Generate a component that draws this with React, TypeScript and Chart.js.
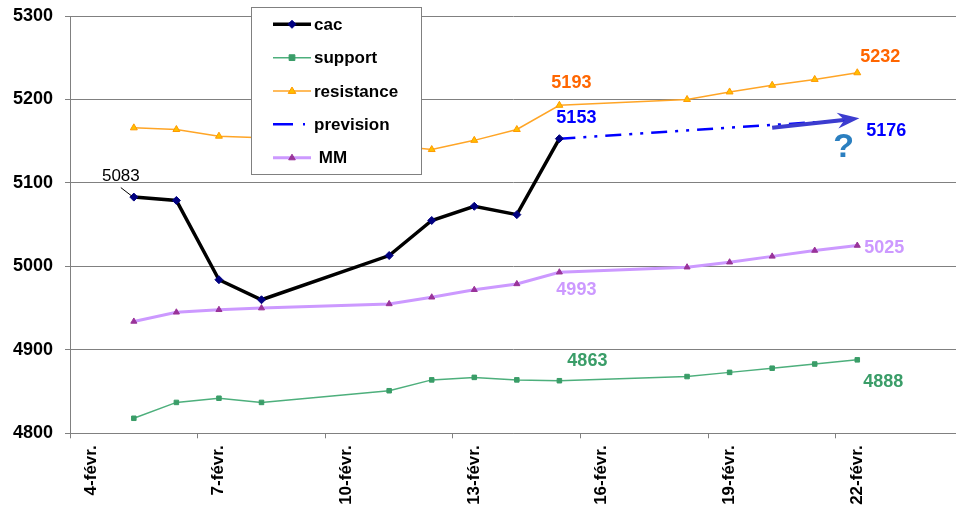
import React, { useEffect, useRef } from 'react';
import { Chart, registerables } from 'chart.js';

Chart.register(...registerables);

// ---- data ----
const days = [5, 6, 7, 8, 11, 12, 13, 14, 15, 18, 19, 20, 21, 22];
const cacDays = [5, 6, 7, 8, 11, 12, 13, 14, 15];
const cacValues = [5083, 5079, 4984, 4960, 5013, 5055, 5072, 5062, 5153];
const supportValues = [4818, 4837, 4842, 4837, 4851, 4864, 4867, 4864, 4863, 4868, 4873, 4878, 4883, 4888];
const resistanceValues = [5166, 5164, 5156, 5154, 5145, 5140, 5151, 5164, 5193, 5200, 5209, 5217, 5224, 5232];
const previsionDays = [15, 22];
const previsionValues = [5153, 5176];
const mmValues = [4934, 4945, 4948, 4950, 4955, 4963, 4972, 4979, 4993, 4999, 5005, 5012, 5019, 5025];
const tickDays = [4, 7, 10, 13, 16, 19, 22];
const tickLabels = ['4-févr.', '7-févr.', '10-févr.', '13-févr.', '16-févr.', '19-févr.', '22-févr.'];
const seriesNames = ['cac', 'support', 'resistance', 'prevision', ' MM'];

const FONT = "'Liberation Sans', Arial, sans-serif";
const PLOT_RIGHT = 956;

// value labels: dataset index, day, offset, colour
const valueLabels = [
  { ds: 0, day: 5, dx: -13, dy: -21, color: '#000000', bold: false, leader: true },
  { ds: 2, day: 15, dx: 12, dy: -22, color: '#FF6600', bold: true },
  { ds: 0, day: 15, dx: 17, dy: -21, color: '#0000FF', bold: true },
  { ds: 2, day: 22, dx: 23, dy: -16, color: '#FF6600', bold: true },
  { ds: 3, day: 22, dx: 29, dy: 12, color: '#0000FF', bold: true },
  { ds: 4, day: 22, dx: 27, dy: 3, color: '#CC99FF', bold: true },
  { ds: 4, day: 15, dx: 17, dy: 18, color: '#CC99FF', bold: true },
  { ds: 1, day: 15, dx: 28, dy: -20, color: '#3A9D68', bold: true },
  { ds: 1, day: 22, dx: 26, dy: 22, color: '#3A9D68', bold: true },
];

const arrowFrom = { x: 20, y: 5166 };
const arrowTo = { x: 22.05, y: 5177.5 };
const questionMark = { x: 21.68, y: 5142, text: '?' };

const toPoints = (xs: number[], ys: number[]) => xs.map((x, i) => ({ x, y: ys[i] }));

function drawMarker(ctx: CanvasRenderingContext2D, style: string, x: number, y: number, r: number, fill: string, stroke: string) {
  ctx.save();
  ctx.fillStyle = fill;
  ctx.strokeStyle = stroke;
  ctx.lineWidth = 1;
  ctx.setLineDash([]);
  ctx.beginPath();
  if (style === 'rectRot') {
    ctx.moveTo(x, y - r);
    ctx.lineTo(x + r, y);
    ctx.lineTo(x, y + r);
    ctx.lineTo(x - r, y);
    ctx.closePath();
  } else if (style === 'rect') {
    const s = r * 0.9;
    ctx.rect(x - s, y - s, 2 * s, 2 * s);
  } else if (style === 'triangle') {
    ctx.moveTo(x, y - r);
    ctx.lineTo(x + r * 0.95, y + r * 0.6);
    ctx.lineTo(x - r * 0.95, y + r * 0.6);
    ctx.closePath();
  }
  ctx.fill();
  ctx.stroke();
  ctx.restore();
}

const annotationPlugin = {
  id: 'annotations',
  afterLayout(chart: any) {
    const xs = chart.scales.x;
    const area = chart.chartArea;
    area.right = PLOT_RIGHT;
    area.width = PLOT_RIGHT - area.left;
    xs.right = PLOT_RIGHT;
    xs.width = PLOT_RIGHT - xs.left;
    xs.configure();
  },
  afterDatasetsDraw(chart: any) {
    const { ctx, scales } = chart;
    const xs = scales.x;
    const ys = scales.y;
    ctx.save();
    // arrow
    const x1 = xs.getPixelForValue(arrowFrom.x);
    const y1 = ys.getPixelForValue(arrowFrom.y);
    const x2 = xs.getPixelForValue(arrowTo.x);
    const y2 = ys.getPixelForValue(arrowTo.y);
    const ang = Math.atan2(y2 - y1, x2 - x1);
    const headLen = 19;
    const headW = 8;
    const bx = x2 - headLen * Math.cos(ang);
    const by = y2 - headLen * Math.sin(ang);
    ctx.strokeStyle = '#3C3CCF';
    ctx.fillStyle = '#3C3CCF';
    ctx.lineWidth = 4;
    ctx.setLineDash([]);
    ctx.beginPath();
    ctx.moveTo(x1, y1);
    ctx.lineTo(bx + 3 * Math.cos(ang), by + 3 * Math.sin(ang));
    ctx.stroke();
    ctx.beginPath();
    ctx.moveTo(x2, y2);
    ctx.lineTo(bx - headW * Math.sin(ang) - 3 * Math.cos(ang), by + headW * Math.cos(ang) - 3 * Math.sin(ang));
    ctx.lineTo(bx + 4 * Math.cos(ang), by + 4 * Math.sin(ang));
    ctx.lineTo(bx + headW * Math.sin(ang) - 3 * Math.cos(ang), by - headW * Math.cos(ang) - 3 * Math.sin(ang));
    ctx.closePath();
    ctx.fill();

    // question mark
    ctx.fillStyle = '#2B7FC0';
    ctx.font = `bold 34px ${FONT}`;
    ctx.textAlign = 'center';
    ctx.textBaseline = 'middle';
    ctx.fillText(questionMark.text, xs.getPixelForValue(questionMark.x), ys.getPixelForValue(questionMark.y));

    // value labels
    valueLabels.forEach((l) => {
      const ds = chart.data.datasets[l.ds];
      const pt = (ds.data as any[]).find((p) => p.x === l.day);
      if (!pt) return;
      const px = xs.getPixelForValue(pt.x);
      const py = ys.getPixelForValue(pt.y);
      ctx.font = `${l.bold ? 'bold ' : ''}${l.bold ? 18 : 17}px ${FONT}`;
      ctx.fillStyle = l.color;
      ctx.textAlign = 'center';
      ctx.textBaseline = 'middle';
      ctx.fillText(String(pt.y), px + l.dx, py + l.dy);
      if (l.leader) {
        ctx.strokeStyle = '#000';
        ctx.lineWidth = 1;
        ctx.beginPath();
        ctx.moveTo(px - 13, py - 9.5);
        ctx.lineTo(px - 2, py - 1);
        ctx.stroke();
      }
    });
    ctx.restore();
  },
  afterDraw(chart: any) {
    const { ctx } = chart;
    ctx.save();
    ctx.fillStyle = '#ffffff';
    ctx.fillRect(251, 7, 170, 167);
    ctx.strokeStyle = '#808080';
    ctx.lineWidth = 1;
    ctx.strokeRect(251.5, 7.5, 170, 167);
    chart.data.datasets.forEach((ds: any, i: number) => {
      const y = 24.3 + i * 33.35;
      ctx.strokeStyle = ds.borderColor;
      ctx.lineWidth = ds.borderWidth;
      if (ds.borderDash) {
        ctx.setLineDash([20, 10, 2, 10]);
      } else {
        ctx.setLineDash([]);
      }
      ctx.beginPath();
      ctx.moveTo(273, y);
      ctx.lineTo(311, y);
      ctx.stroke();
      ctx.setLineDash([]);
      if (ds.pointRadius > 0) {
        drawMarker(ctx, ds.pointStyle, 292, y, ds.pointRadius, ds.pointBackgroundColor, ds.pointBorderColor);
      }
      ctx.fillStyle = '#000';
      ctx.font = `bold 17px ${FONT}`;
      ctx.textAlign = 'left';
      ctx.textBaseline = 'middle';
      ctx.fillText(ds.label, 314, y + 1);
    });
    ctx.restore();
  },
};

export default function App() {
  const ref = useRef<HTMLCanvasElement | null>(null);
  useEffect(() => {
    if (!ref.current) return;
    const chart = new Chart(ref.current, {
      type: 'line',
      data: {
        datasets: [
          {
            label: seriesNames[0],
            data: toPoints(cacDays, cacValues),
            borderColor: '#000000',
            borderWidth: 3.5,
            pointStyle: 'rectRot',
            pointRadius: 4,
            pointBackgroundColor: '#000080',
            pointBorderColor: '#000080',
            pointBorderWidth: 1,
            tension: 0,
          },
          {
            label: seriesNames[1],
            data: toPoints(days, supportValues),
            borderColor: '#4DAF7C',
            borderWidth: 1.5,
            pointStyle: 'rect',
            pointRadius: 3.2,
            pointBackgroundColor: '#3A9D68',
            pointBorderColor: '#3A9D68',
            pointBorderWidth: 1,
            tension: 0,
          },
          {
            label: seriesNames[2],
            data: toPoints(days, resistanceValues),
            borderColor: '#FFA526',
            borderWidth: 1.5,
            pointStyle: 'triangle',
            pointRadius: 4,
            pointBackgroundColor: '#FFC000',
            pointBorderColor: '#FF9900',
            pointBorderWidth: 1,
            tension: 0,
          },
          {
            label: seriesNames[3],
            data: toPoints(previsionDays, previsionValues),
            borderColor: '#0000FF',
            borderWidth: 2.5,
            borderDash: [16, 8, 3, 8, 3, 8],
            pointRadius: 0,
            pointStyle: 'circle',
            pointBackgroundColor: '#0000FF',
            pointBorderColor: '#0000FF',
            tension: 0,
          },
          {
            label: seriesNames[4],
            data: toPoints(days, mmValues),
            borderColor: '#CC99FF',
            borderWidth: 3,
            pointStyle: 'triangle',
            pointRadius: 3.5,
            pointBackgroundColor: '#993399',
            pointBorderColor: '#993399',
            pointBorderWidth: 1,
            tension: 0,
          },
        ] as any,
      },
      options: {
        animation: false,
        responsive: false,
        devicePixelRatio: 1,
        layout: { padding: { top: 16, right: 0, left: 0, bottom: 0 } },
        plugins: { legend: { display: false }, tooltip: { enabled: false } },
        scales: {
          x: {
            type: 'linear',
            min: 3.5,
            max: 24.32,
            afterBuildTicks: (s: any) => {
              s.ticks = tickDays.map((d) => ({ value: d - 0.5 }));
            },
            afterFit: (s: any) => {
              s.height = 78.7;
              s.paddingLeft = 0;
              s.paddingRight = 0;
            },
            ticks: {
              autoSkip: false,
              minRotation: 90,
              maxRotation: 90,
              labelOffset: 21,
              padding: 7,
              color: '#000000',
              font: { family: FONT, size: 17, weight: 'bold' },
              callback: (_v: any, i: number) => tickLabels[i],
            },
            grid: { drawOnChartArea: false, drawTicks: true, tickLength: 5, color: '#808080' },
            border: { color: '#808080' },
          },
          y: {
            min: 4800,
            max: 5300,
            afterFit: (s: any) => {
              s.width = 70;
              s.paddingTop = 0;
              s.paddingBottom = 0;
            },
            ticks: {
              stepSize: 100,
              padding: 12,
              color: '#000000',
              font: { family: FONT, size: 18, weight: 'bold' },
              callback: (v: any) => String(v),
            },
            grid: { color: '#808080', tickLength: 5 },
            border: { color: '#808080' },
          },
        },
      } as any,
      plugins: [annotationPlugin],
    });
    return () => chart.destroy();
  }, []);
  return (
    <div style={{ position: 'fixed', left: 0, top: 0, width: 956, height: 512, background: '#fff' }}>
      <canvas ref={ref} width={956} height={512} style={{ display: 'block' }} />
    </div>
  );
}
